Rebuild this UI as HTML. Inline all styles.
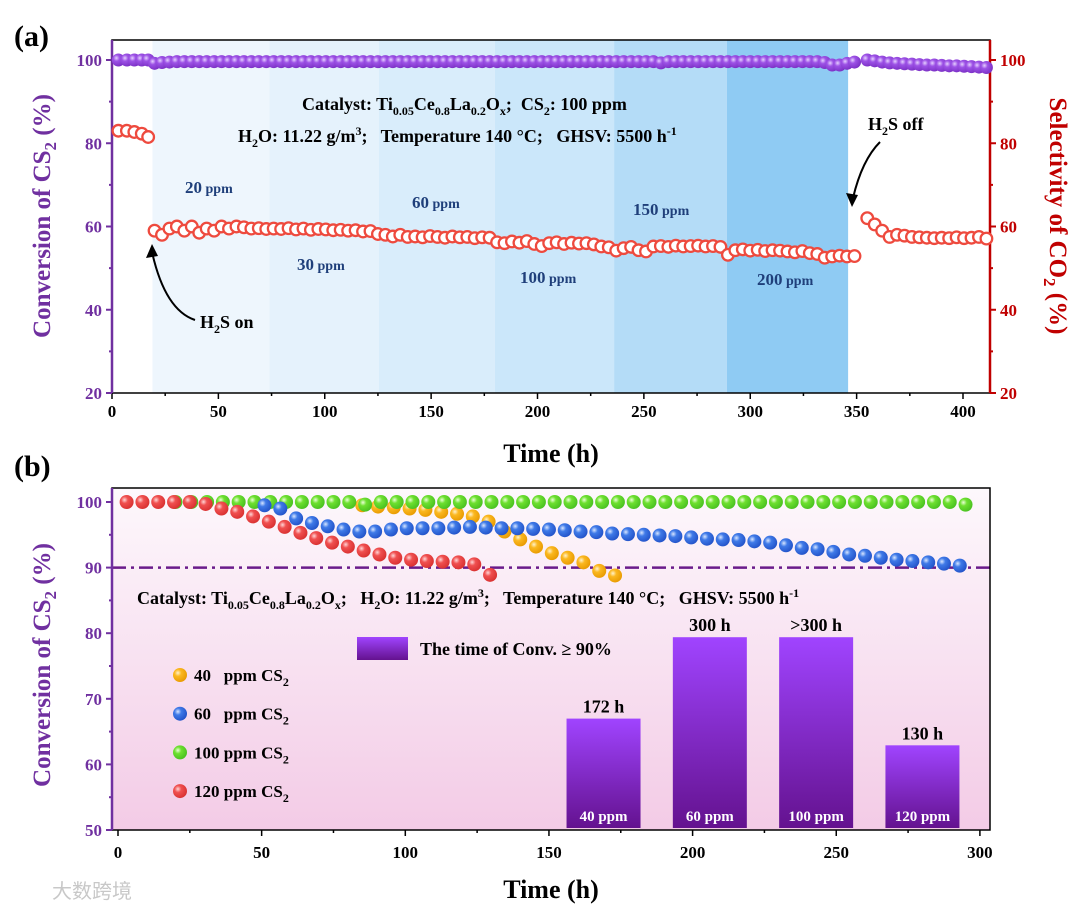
<!DOCTYPE html>
<html><head><meta charset="utf-8">
<style>
html,body{margin:0;padding:0;background:#fff;}
svg{display:block;font-family:"Liberation Serif","Noto Serif CJK SC",serif;}
text{white-space:pre;}
</style></head>
<body>
<svg id="chart" width="1080" height="913" viewBox="0 0 1080 913" xmlns="http://www.w3.org/2000/svg" xml:space="preserve">
<defs>
<linearGradient id="bgB" x1="0" y1="0" x2="0" y2="1"><stop offset="0" stop-color="#fdf8fc"/><stop offset="1" stop-color="#f3cbe6"/></linearGradient>
<linearGradient id="barG" x1="0" y1="0" x2="0" y2="1"><stop offset="0" stop-color="#a044ff"/><stop offset="1" stop-color="#64128f"/></linearGradient>
<radialGradient id="gPurple" cx="0.35" cy="0.35" r="0.7"><stop offset="0" stop-color="#e6d0ff"/><stop offset="0.35" stop-color="#9d52e6"/><stop offset="1" stop-color="#7a2fc4"/></radialGradient>
<radialGradient id="gRed" cx="0.35" cy="0.35" r="0.7"><stop offset="0" stop-color="#ffd6d6"/><stop offset="0.35" stop-color="#f05050"/><stop offset="1" stop-color="#d83030"/></radialGradient>
<radialGradient id="gGreen" cx="0.35" cy="0.35" r="0.7"><stop offset="0" stop-color="#eaffd6"/><stop offset="0.35" stop-color="#6ee030"/><stop offset="1" stop-color="#48c020"/></radialGradient>
<radialGradient id="gBlue" cx="0.35" cy="0.35" r="0.7"><stop offset="0" stop-color="#d8e6ff"/><stop offset="0.35" stop-color="#3f7ae8"/><stop offset="1" stop-color="#2252c8"/></radialGradient>
<radialGradient id="gYellow" cx="0.35" cy="0.35" r="0.7"><stop offset="0" stop-color="#fff2cc"/><stop offset="0.35" stop-color="#fbb820"/><stop offset="1" stop-color="#e89a00"/></radialGradient>
</defs>
</svg>
<script>
// ---------- Panel (a) data ----------
const bandLabels = ["20 ppm","30 ppm","60 ppm","100 ppm","150 ppm","200 ppm"];
const bandEdges = [19,74,125.5,180,236,289,346];
const bandColors = ["#eef6fd","#e5f2fc","#d9edfb","#cbe7fa","#b4dcf7","#8fcbf3"];
const selPreTimes = [3,7,10.5,14,17];
const selPreValues = [83,83,82.7,82.3,81.5];
const selOnStart = 20, selStep = 3.5;
const selOnValues = [59,58,59.5,60,59,60,58.5,59.5,59,60,59.5,60,59.8,59.5,59.6,59.4,
 59.5,59.4,59.6,59.3,59.5,59.2,59.4,59.3,59.1,59.2,59,59.1,58.8,58.9,
 58.2,58,57.6,58,57.5,57.6,57.4,57.7,57.5,57.3,57.6,57.4,57.5,57.2,57.4,57.3,
 56.2,56,56.4,56.1,56.5,55.8,55.3,56,56.2,55.8,56.1,55.9,56,55.7,55.2,55,
 54.2,54.8,55.1,54.3,54,55.2,55.3,55.1,55.4,55.2,55.3,55.4,55.2,55.3,55.1,
 53.2,54.3,54.5,54.2,54.4,54.1,54.3,54.2,54,53.8,54.1,53.6,53.4,52.5,52.8,53,52.8,52.9];
const selOffStart = 355;
const selOffValues = [62,60.5,59,57.5,58,57.8,57.5,57.4,57.3,57.2,57.3,57.2,57.4,57.2,57.3,57.5,57.1];
const convPreValues = [100,100,100,100,100];
const convOnValues = [99.2,99.4,99.5,99.6,99.6,99.6,99.6,99.6,99.6,99.6,99.6,99.6,99.6,99.6,99.6,99.6,
 99.6,99.6,99.6,99.6,99.6,99.6,99.6,99.6,99.6,99.6,99.6,99.6,99.6,99.6,
 99.6,99.6,99.6,99.6,99.6,99.6,99.6,99.6,99.6,99.6,99.6,99.6,99.6,99.6,99.6,99.6,
 99.6,99.6,99.6,99.6,99.6,99.6,99.6,99.6,99.6,99.6,99.6,99.6,99.6,99.6,99.6,99.6,
 99.6,99.6,99.6,99.6,99.6,99.6,99.3,99.6,99.6,99.6,99.6,99.6,99.6,99.6,99.6,
 99.6,99.6,99.6,99.6,99.6,99.6,99.6,99.6,99.6,99.6,99.6,99.6,99.6,99.4,98.8,98.8,99.2,99.5];
const convOffValues = [100,99.8,99.5,99.3,99.2,99.1,99,98.9,98.8,98.8,98.7,98.6,98.6,98.5,98.4,98.3,98.2];
const xTicksA = [0,50,100,150,200,250,300,350,400];
const yTicksA = [20,40,60,80,100];

// ---------- Panel (b) data ----------
const stepB = 5.5;
const redStart = 3;
const redValues = [100,100,100,100,100,99.7,99,98.5,97.8,97,96.2,95.3,94.5,93.8,93.2,92.6,92,91.5,91.2,91,90.9,90.8,90.5,88.9];
const greenStart = 20;
const greenValues = [100,100,100,100,100,100,100,100,100,100,100,100,99.6,100,100,100,100,100,100,100,100,100,100,100,100,100,100,100,100,100,100,100,100,100,100,100,100,100,100,100,100,100,100,100,100,100,100,100,100,100,99.6];
const blueStart = 51;
const blueValues = [99.5,99,97.5,96.8,96.3,95.8,95.5,95.5,95.8,96,96,96,96.1,96.2,96.1,96,96,95.9,95.8,95.7,95.5,95.4,95.2,95.1,95,94.9,94.8,94.6,94.4,94.3,94.2,94,93.8,93.4,93,92.8,92.4,92,91.8,91.5,91.2,91,90.8,90.6,90.3];
const yellowStart = 85;
const yellowValues = [99.5,99.3,99.2,99,98.8,98.5,98.2,97.8,97,95.5,94.3,93.2,92.2,91.5,90.8,89.5,88.8];
const barCats = ["40 ppm","60 ppm","100 ppm","120 ppm"];
const barHours = [172,300,300,130];
const barLabels = ["172 h","300 h",">300 h","130 h"];
const barCenters = [169,206,243,280];
const xTicksB = [0,50,100,150,200,250,300];
const yTicksB = [50,60,70,80,90,100];
const legendNames = ["40","60","100","120"];

// ---------- helpers ----------
const svg = document.getElementById('chart');
const NS = "http://www.w3.org/2000/svg";
function mk(tag, attrs, parent){const e=document.createElementNS(NS,tag);for(const k in attrs)e.setAttribute(k,attrs[k]);(parent||svg).appendChild(e);return e;}
function txt(html, attrs, parent){const e=mk('text',attrs,parent);e.innerHTML=html;return e;}

const A = {l:112,r:990,t:40,b:393};
const xA = h => 112 + h*2.1275;
const yA = v => 393 - (v-20)*(333/80);
const B = {l:112,r:990,t:488,b:830};
const xB = h => 118 + h*2.873;
const yB = v => 830 - (v-50)*6.56;
const barScale = 0.636;

// ===== Panel (a) =====
let g = mk('g',{});


bandColors.forEach((c,i)=>{
  const r = mk('rect',{x:xA(bandEdges[i]),y:A.t,width:xA(bandEdges[i+1])-xA(bandEdges[i]),height:A.b-A.t,fill:c},g);
  
  
});
const bandLabelPos = [[185,193],[297,270],[412,208],[520,283],[633,215],[757,285]];
bandLabels.forEach((s,i)=>{
  const p=s.split(' ');
  const t = txt(`<tspan font-size="17">${p[0]}</tspan><tspan font-size="14"> ${p[1]}</tspan>`,{x:bandLabelPos[i][0],y:bandLabelPos[i][1],fill:"#1f3f7a","font-weight":"bold"},g);
  
  
});
mk('rect',{x:A.l,y:A.t,width:A.r-A.l,height:A.b-A.t,fill:"none",stroke:"#000","stroke-width":1.5},g);
mk('line',{x1:A.l,y1:A.t,x2:A.l,y2:A.b,stroke:"#7030a0","stroke-width":2.5},g);
mk('line',{x1:A.r,y1:A.t,x2:A.r,y2:A.b,stroke:"#c00000","stroke-width":2.5},g);
xTicksA.forEach(v=>{
  mk('line',{x1:xA(v),y1:A.b,x2:xA(v),y2:A.b+6,stroke:"#000","stroke-width":1.5},g);
  if(v<400) mk('line',{x1:xA(v+25),y1:A.b,x2:xA(v+25),y2:A.b+3,stroke:"#000","stroke-width":1.5},g);
  const t=txt(v,{x:xA(v),y:A.b+24,"text-anchor":"middle","font-size":17,"font-weight":"bold"},g);
  
  
});
yTicksA.forEach(v=>{
  mk('line',{x1:A.l,y1:yA(v),x2:A.l-6,y2:yA(v),stroke:"#7030a0","stroke-width":2},g);
  mk('line',{x1:A.r,y1:yA(v),x2:A.r+6,y2:yA(v),stroke:"#c00000","stroke-width":2},g);
  if(v<100){mk('line',{x1:A.l,y1:yA(v+10),x2:A.l-3,y2:yA(v+10),stroke:"#7030a0","stroke-width":2},g);
  mk('line',{x1:A.r,y1:yA(v+10),x2:A.r+3,y2:yA(v+10),stroke:"#c00000","stroke-width":2},g);}
  let t=txt(v,{x:A.l-10,y:yA(v)+6,"text-anchor":"end","font-size":17,"font-weight":"bold",fill:"#7030a0"},g);
  
  
  t=txt(v,{x:A.r+10,y:yA(v)+6,"text-anchor":"start","font-size":17,"font-weight":"bold",fill:"#c00000"},g);
  
  
});
function hollow(h,v){const c=mk('circle',{cx:xA(h),cy:yA(v),r:5.8,fill:"#fff",stroke:"#ee4a3e","stroke-width":2.3},g);
  
  }
function ball(par,x,y,grad,r,name){const c=mk('circle',{cx:x,cy:y,r:r,fill:`url(#${grad})`},par);
  
  }
selPreValues.forEach((v,i)=>hollow(selPreTimes[i],v));
selOnValues.forEach((v,i)=>hollow(selOnStart+i*selStep,v));
selOffValues.forEach((v,i)=>hollow(selOffStart+i*selStep,v));
convPreValues.forEach((v,i)=>ball(g,xA(selPreTimes[i]),yA(v),'gPurple',6.5,'conversion-point'));
convOnValues.forEach((v,i)=>ball(g,xA(selOnStart+i*selStep),yA(v),'gPurple',6.5,'conversion-point'));
convOffValues.forEach((v,i)=>ball(g,xA(selOffStart+i*selStep),yA(v),'gPurple',6.5,'conversion-point'));
let an = txt('Catalyst: Ti<tspan font-size="12" dy="5">0.05</tspan><tspan dy="-5">Ce</tspan><tspan font-size="12" dy="5">0.8</tspan><tspan dy="-5">La</tspan><tspan font-size="12" dy="5">0.2</tspan><tspan dy="-5">O</tspan><tspan font-size="12" dy="5">x</tspan><tspan dy="-5">;  CS</tspan><tspan font-size="12" dy="5">2</tspan><tspan dy="-5">: 100 ppm</tspan>',{x:302,y:110,"font-size":18,"font-weight":"bold"},g);


an = txt('H<tspan font-size="12" dy="5">2</tspan><tspan dy="-5">O: 11.22 g/m</tspan><tspan font-size="12" dy="-7">3</tspan><tspan dy="7">;   Temperature 140 °C;   GHSV: 5500 h</tspan><tspan font-size="12" dy="-7">-1</tspan>',{x:238,y:142,"font-size":18,"font-weight":"bold"},g);


an = txt('H<tspan font-size="12" dy="5">2</tspan><tspan dy="-5">S on</tspan>',{x:200,y:328,"font-size":18,"font-weight":"bold"},g);


mk('path',{d:"M195,320 Q165,310 152,252",fill:"none",stroke:"#000","stroke-width":2},g);
mk('path',{d:"M152,244 L146,258 L158,256 Z",fill:"#000"},g);
an = txt('H<tspan font-size="12" dy="5">2</tspan><tspan dy="-5">S off</tspan>',{x:868,y:130,"font-size":18,"font-weight":"bold"},g);


mk('path',{d:"M880,142 Q862,160 853,198",fill:"none",stroke:"#000","stroke-width":2},g);
mk('path',{d:"M852,207 L846,193 L858,195 Z",fill:"#000"},g);
let t = txt('(a)',{x:14,y:46,"font-size":30,"font-weight":"bold"});


t = txt('Time (h)',{x:551,y:462,"text-anchor":"middle","font-size":26,"font-weight":"bold"});


t = txt('Conversion of CS<tspan font-size="17" dy="6">2</tspan><tspan dy="-6"> (%)</tspan>',{x:0,y:0,"text-anchor":"middle","font-size":25,"font-weight":"bold",fill:"#7030a0",transform:"translate(50,216) rotate(-90)"});


t = txt('Selectivity of CO<tspan font-size="17" dy="6">2</tspan><tspan dy="-6"> (%)</tspan>',{x:0,y:0,"text-anchor":"middle","font-size":25,"font-weight":"bold",fill:"#c00000",transform:"translate(1050,216) rotate(90)"});



// ===== Panel (b) =====
g = mk('g',{});


mk('rect',{x:B.l,y:B.t,width:B.r-B.l,height:B.b-B.t,fill:"url(#bgB)"},g);
barHours.forEach((v,i)=>{
  const cx = xB(barCenters[i]), w=74, h=v*barScale;
  const r = mk('rect',{x:cx-w/2,y:B.b-2-h,width:w,height:h,fill:"url(#barG)"},g);
  
  
  let tt = txt(barLabels[i].replace('>','&gt;'),{x:cx,y:B.b-2-h-6,"text-anchor":"middle","font-size":18,"font-weight":"bold"},g);
  
  
  tt = txt(barCats[i],{x:cx,y:B.b-9,"text-anchor":"middle","font-size":15,"font-weight":"bold",fill:"#fff"},g);
  
  
});
let ln = mk('line',{x1:B.l,y1:yB(90),x2:B.r,y2:yB(90),stroke:"#6a1b8a","stroke-width":2.5,"stroke-dasharray":"14,5,3,5"},g);


yellowValues.forEach((v,i)=>ball(g,xB(yellowStart+i*stepB),yB(v),'gYellow',7,'series-40ppm-point'));
greenValues.forEach((v,i)=>ball(g,xB(greenStart+i*stepB),yB(v),'gGreen',7,'series-100ppm-point'));
blueValues.forEach((v,i)=>ball(g,xB(blueStart+i*stepB),yB(v),'gBlue',7,'series-60ppm-point'));
redValues.forEach((v,i)=>ball(g,xB(redStart+i*stepB),yB(v),'gRed',7,'series-120ppm-point'));
mk('rect',{x:B.l,y:B.t,width:B.r-B.l,height:B.b-B.t,fill:"none",stroke:"#000","stroke-width":1.5},g);
mk('line',{x1:B.l,y1:B.t,x2:B.l,y2:B.b,stroke:"#7030a0","stroke-width":2.5},g);
xTicksB.forEach(v=>{
  mk('line',{x1:xB(v),y1:B.b,x2:xB(v),y2:B.b+6,stroke:"#000","stroke-width":1.5},g);
  if(v<300) mk('line',{x1:xB(v+25),y1:B.b,x2:xB(v+25),y2:B.b+3,stroke:"#000","stroke-width":1.5},g);
  const tt=txt(v,{x:xB(v),y:B.b+28,"text-anchor":"middle","font-size":17,"font-weight":"bold"},g);
  
  
});
yTicksB.forEach(v=>{
  mk('line',{x1:B.l,y1:yB(v),x2:B.l-6,y2:yB(v),stroke:"#7030a0","stroke-width":2},g);
  if(v<100) mk('line',{x1:B.l,y1:yB(v+5),x2:B.l-3,y2:yB(v+5),stroke:"#7030a0","stroke-width":2},g);
  const tt=txt(v,{x:B.l-10,y:yB(v)+6,"text-anchor":"end","font-size":17,"font-weight":"bold",fill:"#7030a0"},g);
  
  
});
an = txt('Catalyst: Ti<tspan font-size="12" dy="5">0.05</tspan><tspan dy="-5">Ce</tspan><tspan font-size="12" dy="5">0.8</tspan><tspan dy="-5">La</tspan><tspan font-size="12" dy="5">0.2</tspan><tspan dy="-5">O</tspan><tspan font-size="12" dy="5">x</tspan><tspan dy="-5">;   H</tspan><tspan font-size="12" dy="5">2</tspan><tspan dy="-5">O: 11.22 g/m</tspan><tspan font-size="12" dy="-7">3</tspan><tspan dy="7">;   Temperature 140 °C;   GHSV: 5500 h</tspan><tspan font-size="12" dy="-7">-1</tspan>',{x:137,y:604,"font-size":18,"font-weight":"bold"},g);


let lr = mk('rect',{x:357,y:637,width:51,height:23,fill:"url(#barG)"},g);


an = txt('The time of Conv. ≥ 90%',{x:420,y:655,"font-size":18,"font-weight":"bold"},g);


const legGrads=['gYellow','gBlue','gGreen','gRed'];
legendNames.forEach((n,i)=>{
  const y=675+i*38.7;
  ball(g,180,y,legGrads[i],7,'legend-marker');
  const pad = n.length<3 ? '   ' : ' ';
  const tt=txt(`${n}${pad}ppm CS<tspan font-size="12" dy="5">2</tspan>`,{x:194,y:y+6,"font-size":17,"font-weight":"bold"},g);
  
  
});
t = txt('(b)',{x:14,y:476,"font-size":30,"font-weight":"bold"});


t = txt('Time (h)',{x:551,y:898,"text-anchor":"middle","font-size":26,"font-weight":"bold"});


t = txt('Conversion of CS<tspan font-size="17" dy="6">2</tspan><tspan dy="-6"> (%)</tspan>',{x:0,y:0,"text-anchor":"middle","font-size":25,"font-weight":"bold",fill:"#7030a0",transform:"translate(50,665) rotate(-90)"});


t = txt('大数跨境',{x:52,y:898,"font-size":20,fill:"#c8c8c8","font-family":"Noto Sans CJK SC, sans-serif"});


</script>
</body></html>
